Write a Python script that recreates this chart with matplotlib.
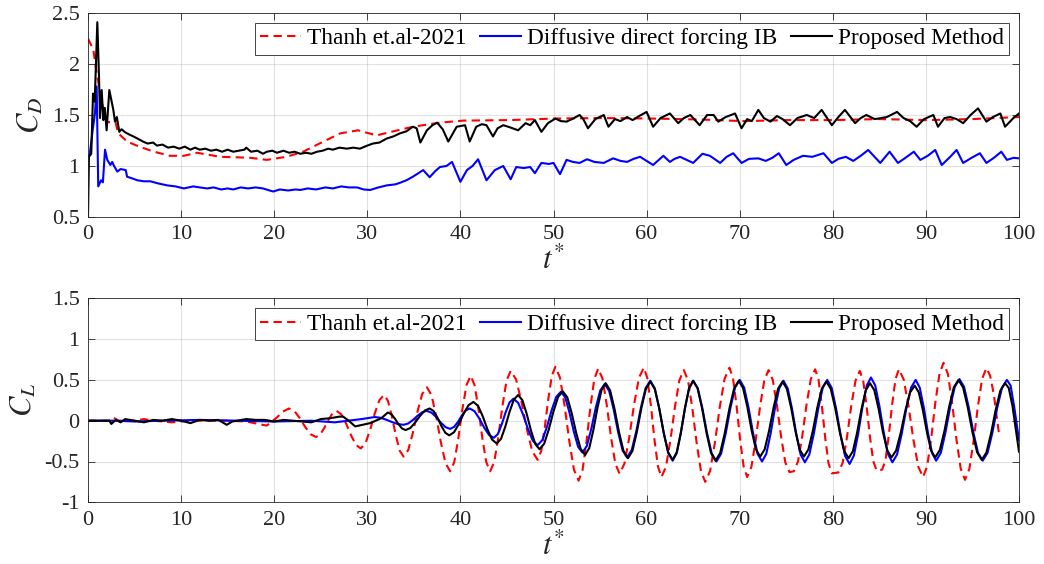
import numpy as np
import matplotlib
matplotlib.use("Agg")
import matplotlib.pyplot as plt
from matplotlib.ticker import FuncFormatter

plt.rcParams['font.family'] = ['Liberation Serif', 'DejaVu Serif']
plt.rcParams['mathtext.fontset'] = 'stix'

# ---------------- drag coefficient ----------------
t_cd_thanh = [0, 0.57, 0.93, 1.5, 2.0, 2.95, 3.25, 4.2, 5.5, 7.1, 8.8, 10.3, 11.7, 14.2,
              16.0, 17.5, 19.2, 21.3, 23.1, 25.3, 27.1, 29.0, 31.0, 32.8, 34.9, 37.8,
              40.3, 45.3, 50.0, 55.4, 60.7, 66.1, 70.4, 75.0, 80.0, 85.0, 90.0, 95.0, 100]
cd_thanh = [2.25, 2.14, 1.91, 1.62, 1.43, 1.43, 1.32, 1.24, 1.19, 1.14, 1.10, 1.10, 1.13, 1.09,
            1.085, 1.08, 1.06, 1.09, 1.14, 1.24, 1.32, 1.35, 1.30, 1.34, 1.385, 1.425,
            1.445, 1.45, 1.465, 1.47, 1.465, 1.455, 1.44, 1.45, 1.45, 1.46, 1.45, 1.46, 1.48]

t_cd_ib = [0, 0.2, 0.5, 0.75, 0.93, 1.1, 1.4, 1.6, 1.83, 2.07, 2.4, 2.6, 2.8, 3.15, 3.5, 4.05,
           4.2, 4.7, 5.3, 6.0, 6.7, 7.5, 8.5, 9.4, 10.3, 11.3, 12.0, 12.8, 13.5, 14.3, 15.0,
           15.6, 16.4, 17.2, 18.0, 18.8, 19.5, 19.9, 20.6, 21.5, 22.3, 22.8, 23.6, 24.5, 25.5,
           26.3, 27.2, 28.0, 28.9, 29.6, 30.3, 31.2, 32.1, 33.0, 33.5, 34.2, 34.9, 35.5, 36.0,
           36.7, 37.3, 37.8, 38.5, 39.1, 40.0, 40.7, 41.3, 41.9, 42.8, 43.7, 44.6, 45.4, 46.0,
           46.8, 47.5, 48.0, 48.7, 49.5, 50.0, 50.7, 51.4, 52.1, 52.8, 53.6, 54.4, 55.4, 56.4,
           57.2, 57.9, 58.6, 59.3, 60.0, 60.7, 61.8, 62.5, 63.0, 63.6, 64.3, 65.0, 66.0, 66.8,
           67.9, 68.6, 69.3, 70.2, 71.0, 72.0, 72.8, 73.5, 74.2, 75.0, 75.8, 76.8, 77.8, 79.0,
           79.9, 80.6, 81.4, 82.2, 83.0, 83.8, 85.1, 86.1, 87.0, 87.8, 88.7, 89.4, 90.2, 91.0,
           91.7, 92.5, 93.3, 94.0, 94.9, 95.8, 96.5, 97.3, 98.1, 98.7, 99.4, 100]
cd_ib = [1.09, 1.12, 1.35, 1.52, 1.78, 0.80, 0.86, 0.84, 1.16, 1.06, 1.01, 1.04, 1.00, 0.945, 0.97, 0.96,
         0.895, 0.88, 0.86, 0.85, 0.85, 0.83, 0.81, 0.80, 0.78, 0.80, 0.79, 0.78, 0.79, 0.77, 0.78,
         0.77, 0.79, 0.78, 0.79, 0.78, 0.76, 0.75, 0.77, 0.76, 0.77, 0.765, 0.78, 0.77, 0.79,
         0.78, 0.80, 0.79, 0.79, 0.77, 0.765, 0.79, 0.81, 0.82, 0.835, 0.86, 0.895, 0.93, 0.96,
         0.89, 0.95, 0.99, 1.00, 1.04, 0.845, 0.96, 1.00, 1.066, 0.86, 0.96, 1.00, 0.87, 0.99,
         0.98, 0.99, 0.93, 1.03, 1.02, 1.03, 0.92, 1.06, 1.04, 1.03, 1.066, 1.04, 1.03, 1.075,
         1.05, 1.04, 1.07, 1.09, 1.05, 1.01, 1.10, 1.04, 1.07, 1.09, 1.06, 1.03, 1.12, 1.10,
         1.03, 1.09, 1.125, 1.03, 1.07, 1.075, 1.05, 1.08, 1.125, 1.01, 1.06, 1.10, 1.09, 1.125,
         1.03, 1.07, 1.09, 1.05, 1.10, 1.157, 1.03, 1.14, 1.03, 1.08, 1.14, 1.06, 1.10, 1.157,
         1.01, 1.08, 1.157, 1.03, 1.08, 1.125, 1.03, 1.08, 1.14, 1.06, 1.08, 1.075]

t_cd_prop = [0, 0.1, 0.35, 0.54, 0.72, 1.0, 1.18, 1.29, 1.47, 1.65, 1.8, 2.0, 2.29, 2.72, 2.9, 3.1,
             3.36, 3.6, 4.0, 4.4, 4.87, 5.3, 5.9, 6.4, 7.0, 7.4, 8.0, 8.6, 9.2, 9.8, 10.4, 11.0,
             11.5, 12.0, 12.6, 13.2, 13.8, 14.4, 15.0, 15.6, 16.2, 16.8, 17.0, 17.5, 18.2, 18.8,
             19.2, 19.8, 20.3, 21.0, 21.6, 22.2, 22.8, 23.4, 24.0, 24.6, 25.2, 25.8, 26.3, 27.0,
             27.8, 28.5, 29.2, 30.0, 30.6, 31.3, 32.1, 32.8, 33.5, 34.2, 34.9, 35.3, 35.7, 36.4,
             37.0, 37.5, 38.1, 38.7, 39.6, 40.5, 41.0, 41.7, 42.3, 42.8, 43.5, 44.0, 44.6, 45.3,
             46.2, 47.0, 47.5, 48.0, 48.7, 49.4, 50.2, 50.8, 51.4, 52.0, 52.8, 53.2, 53.7, 54.5,
             55.4, 55.9, 56.6, 57.2, 57.9, 58.5, 59.2, 60.0, 60.7, 61.5, 62.5, 63.4, 64.0, 64.7,
             65.7, 66.5, 67.2, 67.7, 68.5, 69.5, 70.2, 70.8, 71.3, 72.0, 72.6, 73.3, 74.0, 74.6,
             75.4, 76.2, 77.2, 78.0, 78.8, 79.9, 80.6, 81.3, 82.4, 83.0, 83.6, 84.5, 85.2, 85.8,
             86.9, 87.6, 88.3, 89.0, 89.8, 90.3, 90.8, 91.3, 92.0, 92.6, 93.3, 94.0, 94.8, 95.6,
             96.5, 97.2, 98.0, 98.5, 99.4, 100]
cd_prop = [0.5, 1.09, 1.12, 1.71, 1.63, 2.41, 1.88, 1.47, 1.745, 1.45, 1.57, 1.35, 1.745, 1.55, 1.435, 1.48,
           1.335, 1.36, 1.33, 1.31, 1.29, 1.27, 1.24, 1.22, 1.23, 1.20, 1.21, 1.18, 1.19, 1.17, 1.19, 1.16,
           1.18, 1.16, 1.17, 1.15, 1.16, 1.14, 1.16, 1.14, 1.15, 1.16, 1.18, 1.14, 1.15, 1.12,
           1.14, 1.15, 1.13, 1.15, 1.13, 1.14, 1.12, 1.13, 1.12, 1.14, 1.15, 1.17, 1.16, 1.18,
           1.17, 1.18, 1.17, 1.20, 1.22, 1.23, 1.27, 1.29, 1.32, 1.34, 1.385, 1.37, 1.23, 1.35,
           1.40, 1.425, 1.36, 1.24, 1.385, 1.40, 1.24, 1.385, 1.41, 1.40, 1.29, 1.37, 1.40, 1.38,
           1.35, 1.42, 1.40, 1.45, 1.335, 1.42, 1.465, 1.44, 1.435, 1.46, 1.50, 1.46, 1.37, 1.46,
           1.50, 1.385, 1.46, 1.44, 1.48, 1.45, 1.49, 1.53, 1.385, 1.47, 1.515, 1.42, 1.47, 1.50,
           1.40, 1.50, 1.50, 1.435, 1.48, 1.515, 1.37, 1.46, 1.44, 1.55, 1.47, 1.435, 1.49, 1.46,
           1.40, 1.47, 1.50, 1.47, 1.55, 1.40, 1.48, 1.55, 1.42, 1.47, 1.50, 1.46, 1.47, 1.48,
           1.53, 1.47, 1.44, 1.385, 1.46, 1.48, 1.50, 1.385, 1.47, 1.48, 1.46, 1.42, 1.50, 1.565,
           1.435, 1.48, 1.515, 1.385, 1.47, 1.515]

# ---------------- lift coefficient ----------------
t_cl_thanh = [0, 1.0, 2.2, 2.7, 3.3, 5.0, 6.0, 7.0, 9.0, 11.0, 13.0, 15.0, 17.0, 19.2, 20.3, 20.9,
              21.6, 22.18, 22.76, 23.34, 23.92,
              24.5, 24.94, 25.38, 25.82, 26.26,
              26.7, 27.22, 27.74, 28.26, 28.78,
              29.3, 29.8, 30.3, 30.8, 31.3,
              31.8, 32.22, 32.64, 33.06, 33.48,
              33.9, 34.4, 34.9, 35.4, 35.9,
              36.4, 36.9, 37.4, 37.9, 38.4,
              38.9, 39.34, 39.78, 40.22, 40.66,
              41.1, 41.52, 41.94, 42.36, 42.78,
              43.2, 43.64, 44.08, 44.52, 44.96,
              45.4, 45.98, 46.56, 47.14, 47.72,
              48.3, 48.68, 49.06, 49.44, 49.82,
              50.2, 50.7, 51.2, 51.7, 52.2,
              52.7, 53.12, 53.54, 53.96, 54.38,
              54.8, 55.26, 55.72, 56.18, 56.64,
              57.1, 57.62, 58.14, 58.66, 59.18,
              59.7, 60.08, 60.46, 60.84, 61.22,
              61.6, 62.08, 62.56, 63.04, 63.52,
              64.0, 64.46, 64.92, 65.38, 65.84,
              66.3, 66.82, 67.34, 67.86, 68.38,
              68.9, 69.28, 69.66, 70.04, 70.42,
              70.8, 71.26, 71.72, 72.18, 72.64,
              73.1, 73.55, 74.0, 74.45, 74.9,
              75.35, 75.8, 76.26, 76.72, 77.18, 77.64,
              78.1, 78.46, 78.82, 79.18, 79.54,
              79.9, 80.6, 81.06, 81.52, 81.98, 82.44,
              82.9, 83.26, 83.62, 83.98, 84.34,
              84.7, 85.3, 85.66, 86.02, 86.38, 86.74,
              87.1, 87.62, 88.14, 88.66, 89.18,
              89.7, 90.14, 90.58, 91.02, 91.46,
              91.9, 92.36, 92.82, 93.28, 93.74,
              94.2, 94.66, 95.12, 95.58, 96.04,
              96.5, 96.9, 97.3, 97.6, 97.9]
cl_thanh = [0, 0.0, 0.0, 0.04, 0.0, 0.0, 0.02, 0.0, -0.02, 0.0, 0.0, 0.0, -0.01, -0.06, 0.04, 0.11,
            0.15, 0.117, 0.029, -0.079, -0.167,
            -0.20, -0.169, -0.089, 0.009, 0.089,
            0.12, 0.076, -0.039, -0.181, -0.296,
            -0.34, -0.277, -0.114, 0.089, 0.252,
            0.315, 0.243, 0.054, -0.179, -0.368,
            -0.44, -0.359, -0.146, 0.116, 0.329,
            0.41, 0.312, 0.054, -0.264, -0.522,
            -0.62, -0.508, -0.216, 0.146, 0.438,
            0.55, 0.438, 0.146, -0.216, -0.508,
            -0.62, -0.503, -0.195, 0.185, 0.493,
            0.61, 0.506, 0.233, -0.103, -0.376,
            -0.48, -0.371, -0.086, 0.266, 0.551,
            0.66, 0.527, 0.178, -0.253, -0.602,
            -0.735, -0.604, -0.260, 0.165, 0.509,
            0.64, 0.517, 0.194, -0.204, -0.527,
            -0.65, -0.526, -0.201, 0.201, 0.526,
            0.65, 0.522, 0.187, -0.227, -0.562,
            -0.69, -0.565, -0.237, 0.167, 0.495,
            0.62, 0.489, 0.147, -0.277, -0.619,
            -0.75, -0.616, -0.266, 0.166, 0.516,
            0.65, 0.522, 0.187, -0.227, -0.562,
            -0.69, -0.565, -0.237, 0.167, 0.495,
            0.62, 0.501, 0.188, -0.198, -0.511,
            -0.63, -0.62, -0.501, -0.188, 0.198, 0.511,
            0.63, 0.508, 0.189, -0.205, -0.523,
            -0.645, -0.635, -0.516, -0.205, 0.180, 0.491,
            0.61, 0.493, 0.188, -0.188, -0.493,
            -0.61, -0.60, -0.483, -0.175, 0.205, 0.513,
            0.63, 0.504, 0.174, -0.234, -0.564,
            -0.69, -0.556, -0.206, 0.226, 0.576,
            0.71, 0.573, 0.214, -0.229, -0.588,
            -0.725, -0.594, -0.252, 0.172, 0.514,
            0.645, 0.55, 0.32, 0.05, -0.20]

t_cl_ib = [0, 3.0, 5.0, 8.0, 12.0, 16.0, 20.0, 24.0, 26.5, 28.0, 29.4,
           30.8, 31.42, 32.04, 32.66, 33.28,
           33.9, 34.4, 34.9, 35.4, 35.9,
           36.4, 36.9, 37.4, 37.9, 38.4,
           38.9, 39.32, 39.74, 40.16, 40.58,
           41.0, 41.52, 42.04, 42.56, 43.08,
           43.6, 44.02, 44.44, 44.86, 45.28,
           45.7, 46.22, 46.74, 47.26, 47.78,
           48.3, 48.8, 49.3, 49.8, 50.3,
           50.8, 51.26, 51.72, 52.18, 52.64,
           53.1, 53.58, 54.06, 54.54, 55.02,
           55.5, 55.98, 56.46, 56.94, 57.42,
           57.9, 58.4, 58.9, 59.4, 59.9,
           60.4, 60.88, 61.36, 61.84, 62.32,
           62.8, 63.24, 63.68, 64.12, 64.56,
           65.0, 65.5, 66.0, 66.5, 67.0,
           67.5, 68.0, 68.5, 69.0, 69.5,
           70.0, 70.48, 70.96, 71.44, 71.92,
           72.4, 72.86, 73.32, 73.78, 74.24,
           74.7, 75.16, 75.62, 76.08, 76.54,
           77.0, 77.48, 77.96, 78.44, 78.92,
           79.4, 79.88, 80.36, 80.84, 81.32,
           81.8, 82.26, 82.72, 83.18, 83.64,
           84.1, 84.56, 85.02, 85.48, 85.94,
           86.4, 86.9, 87.4, 87.9, 88.4,
           88.9, 89.34, 89.78, 90.22, 90.66,
           91.1, 91.6, 92.1, 92.6, 93.1,
           93.6, 94.1, 94.6, 95.1, 95.6,
           96.1, 96.62, 97.14, 97.66, 98.18,
           98.7, 99.1, 99.5, 100]
cl_ib = [0, 0.0, -0.01, 0.0, 0.01, 0.0, -0.01, 0.0, -0.02, 0.0, 0.02,
         0.045, 0.036, 0.012, -0.017, -0.041,
         -0.05, -0.034, 0.009, 0.061, 0.104,
         0.12, 0.099, 0.044, -0.024, -0.079,
         -0.10, -0.076, -0.014, 0.064, 0.126,
         0.15, 0.116, 0.026, -0.086, -0.176,
         -0.21, -0.164, -0.044, 0.104, 0.224,
         0.27, 0.216, 0.073, -0.103, -0.246,
         -0.30, -0.237, -0.074, 0.129, 0.292,
         0.355, 0.284, 0.098, -0.133, -0.319,
         -0.39, -0.310, -0.100, 0.160, 0.370,
         0.45, 0.364, 0.139, -0.139, -0.364,
         -0.45, -0.360, -0.125, 0.165, 0.400,
         0.49, 0.396, 0.151, -0.151, -0.396,
         -0.49, -0.396, -0.151, 0.151, 0.396,
         0.49, 0.395, 0.148, -0.158, -0.405,
         -0.50, -0.405, -0.155, 0.155, 0.405,
         0.50, 0.405, 0.155, -0.155, -0.405,
         -0.50, -0.405, -0.158, 0.148, 0.395,
         0.49, 0.395, 0.145, -0.165, -0.415,
         -0.51, -0.414, -0.161, 0.151, 0.404,
         0.50, 0.402, 0.144, -0.174, -0.432,
         -0.53, -0.429, -0.164, 0.164, 0.429,
         0.53, 0.431, 0.171, -0.151, -0.411,
         -0.51, -0.414, -0.161, 0.151, 0.404,
         0.50, 0.405, 0.158, -0.148, -0.395,
         -0.49, -0.395, -0.145, 0.165, 0.415,
         0.51, 0.415, 0.165, -0.145, -0.395,
         -0.49, -0.395, -0.148, 0.158, 0.405,
         0.50, 0.43, 0.16, -0.24]

t_cl_prop = [0, 2.3, 2.5, 3.0, 3.5, 4.0, 5.0, 6.0, 7.0, 8.0, 9.0, 10.0, 11.0, 12.0, 13.0, 14.0,
             14.9, 15.5, 17.0, 18.0, 19.0, 20.0, 21.0, 22.0, 23.0, 24.0, 25.0, 26.0, 27.0, 27.4,
             28.0, 28.7, 29.5, 30.3, 31.5,
             32.2, 32.58, 32.96, 33.34, 33.72,
             34.1, 34.62, 35.14, 35.66, 36.18,
             36.7, 37.12, 37.54, 37.96, 38.38,
             38.8, 39.32, 39.84, 40.36, 40.88,
             41.4, 41.9, 42.4, 42.9, 43.4,
             43.9, 44.36, 44.82, 45.28, 45.74,
             46.2, 46.66, 47.12, 47.58, 48.04,
             48.5, 49.0, 49.5, 50.0, 50.5,
             51.0, 51.48, 51.96, 52.44, 52.92,
             53.4, 53.84, 54.28, 54.72, 55.16,
             55.6, 56.08, 56.56, 57.04, 57.52,
             58.0, 58.48, 58.96, 59.44, 59.92,
             60.4, 60.88, 61.36, 61.84, 62.32,
             62.8, 63.24, 63.68, 64.12, 64.56,
             65.0, 65.48, 65.96, 66.44, 66.92,
             67.4, 67.9, 68.4, 68.9, 69.4,
             69.9, 70.36, 70.82, 71.28, 71.74,
             72.2, 72.68, 73.16, 73.64, 74.12,
             74.6, 75.06, 75.52, 75.98, 76.44,
             76.9, 77.38, 77.86, 78.34, 78.82,
             79.3, 79.78, 80.26, 80.74, 81.22,
             81.7, 82.16, 82.62, 83.08, 83.54,
             84.0, 84.46, 84.92, 85.38, 85.84,
             86.3, 86.8, 87.3, 87.8, 88.3,
             88.8, 89.24, 89.68, 90.12, 90.56,
             91.0, 91.5, 92.0, 92.5, 93.0,
             93.5, 94.0, 94.5, 95.0, 95.5,
             96.0, 96.5, 97.0, 97.5, 98.0,
             98.5, 98.9, 99.3, 99.7, 100]
cl_prop = [0, 0, -0.04, 0.01, -0.02, 0.02, 0.0, -0.02, 0.01, 0.0, 0.02, 0.0, -0.03, 0.01, 0.0, 0.01,
           -0.05, -0.01, 0.02, 0.01, 0.01, -0.01, 0.01, 0.0, -0.01, -0.02, 0.02, 0.03, 0.05, 0.05,
           0.0, -0.07, -0.05, -0.03, 0.03,
           0.10, 0.080, 0.026, -0.041, -0.094,
           -0.115, -0.090, -0.023, 0.058, 0.125,
           0.15, 0.118, 0.036, -0.066, -0.148,
           -0.18, -0.141, -0.038, 0.088, 0.191,
           0.23, 0.181, 0.054, -0.104, -0.231,
           -0.28, -0.223, -0.074, 0.109, 0.258,
           0.315, 0.251, 0.085, -0.120, -0.286,
           -0.35, -0.282, -0.105, 0.115, 0.292,
           0.36, 0.286, 0.091, -0.151, -0.346,
           -0.42, -0.336, -0.116, 0.156, 0.376,
           0.46, 0.372, 0.142, -0.142, -0.372,
           -0.46, -0.370, -0.135, 0.155, 0.390,
           0.48, 0.388, 0.148, -0.148, -0.388,
           -0.48, -0.387, -0.145, 0.155, 0.397,
           0.49, 0.396, 0.151, -0.151, -0.396,
           -0.49, -0.396, -0.151, 0.151, 0.396,
           0.49, 0.401, 0.169, -0.119, -0.351,
           -0.44, -0.352, -0.122, 0.162, 0.392,
           0.48, 0.392, 0.162, -0.122, -0.352,
           -0.44, -0.352, -0.122, 0.162, 0.392,
           0.48, 0.390, 0.155, -0.135, -0.370,
           -0.46, -0.372, -0.142, 0.142, 0.372,
           0.46, 0.373, 0.146, -0.136, -0.363,
           -0.45, -0.366, -0.146, 0.126, 0.346,
           0.43, 0.346, 0.126, -0.146, -0.366,
           -0.45, -0.359, -0.122, 0.172, 0.409,
           0.50, 0.406, 0.161, -0.141, -0.386,
           -0.48, -0.390, -0.155, 0.135, 0.370,
           0.46, 0.40, 0.18, -0.14, -0.38]

legend_labels = ["Thanh et.al-2021", "Diffusive direct forcing IB", "Proposed Method"]

dark = (0.15, 0.15, 0.15)
fmt = FuncFormatter(lambda v, p: ("%g" % v).replace("\u2212", "-"))


def style_axes(ax, ylim, yticks, ylabel):
    ax.set_xlim(0, 100)
    ax.set_ylim(*ylim)
    ax.set_xticks(np.arange(0, 101, 10))
    ax.set_yticks(yticks)
    ax.xaxis.set_major_formatter(fmt)
    ax.yaxis.set_major_formatter(fmt)
    ax.tick_params(direction='in', length=5, width=0.6, top=True, right=True,
                   labelsize=16, colors=dark, pad=6)
    ax.grid(True, color=dark, alpha=0.13, linewidth=0.8)
    ax.set_axisbelow(True)
    for s in ax.spines.values():
        s.set_color(dark)
        s.set_linewidth(0.6)
    ax.set_xlabel(r'$t^{*}$', fontsize=22, color=dark, labelpad=2)
    ax.set_ylabel(ylabel, fontsize=22, color=dark, labelpad=4)
    leg = ax.legend(legend_labels, ncol=3, loc='upper right', bbox_to_anchor=(0.989, 0.951),
                    borderaxespad=0, fontsize=16.8, fancybox=False, framealpha=1,
                    edgecolor=dark, handlelength=1.75, handletextpad=0.25,
                    columnspacing=0.6, borderpad=0.22)
    leg.get_frame().set_linewidth(0.6)


fig = plt.figure(figsize=(10.44, 5.64), dpi=100)
ax1 = fig.add_axes([88 / 1044, 1 - 217 / 564, 931 / 1044, 204 / 564])
ax2 = fig.add_axes([88 / 1044, 1 - 502.3 / 564, 931 / 1044, 204 / 564])

lw = 1.5
kw = dict(lw=lw, solid_joinstyle='round', dash_joinstyle='round')
ax1.plot(t_cd_thanh, cd_thanh, color='#FF0000', dashes=(4, 2.5), **kw)
ax1.plot(t_cd_ib, cd_ib, color='#0000FF', **kw)
ax1.plot(t_cd_prop, cd_prop, color='k', **kw)
style_axes(ax1, (0.5, 2.5), [0.5, 1, 1.5, 2, 2.5], r'$C_D$')

ax2.plot(t_cl_thanh, cl_thanh, color='#FF0000', dashes=(4, 2.5), **kw)
ax2.plot(t_cl_ib, cl_ib, color='#0000FF', **kw)
ax2.plot(t_cl_prop, cl_prop, color='k', **kw)
style_axes(ax2, (-1, 1.5), [-1, -0.5, 0, 0.5, 1, 1.5], r'$C_L$')

fig.savefig('out.png', dpi=100)
